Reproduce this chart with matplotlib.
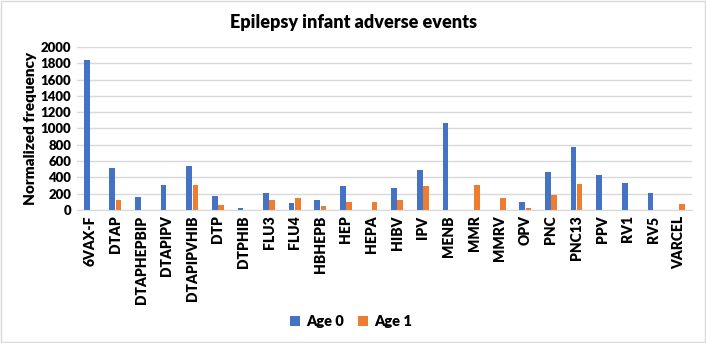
import numpy as np
import matplotlib
matplotlib.use('Agg')
import matplotlib.pyplot as plt
from matplotlib.patches import Rectangle

plt.rcParams['font.family'] = ['Lato', 'DejaVu Sans']

vaccines = ['6VAX-F', 'DTAP', 'DTAPHEPBIP', 'DTAPIPV', 'DTAPIPVHIB', 'DTP', 'DTPHIB',
            'FLU3', 'FLU4', 'HBHEPB', 'HEP', 'HEPA', 'HIBV', 'IPV', 'MENB', 'MMR',
            'MMRV', 'OPV', 'PNC', 'PNC13', 'PPV', 'RV1', 'RV5', 'VARCEL']
age0 = [1840, 516, 164, 303, 533, 172, 20, 213, 90, 127, 295, 0, 266, 492, 1066, 0,
        0, 94, 463, 770, 426, 328, 213, 0]
age1 = [0, 123, 0, 0, 303, 66, 0, 123, 143, 49, 98, 98, 119, 291, 0, 303,
        152, 20, 184, 320, 0, 0, 0, 70]

fig = plt.figure(figsize=(7.06, 3.43), dpi=100)
ax = fig.add_axes([0.109, 0.388, 0.871, 0.475])

x = np.arange(len(vaccines))
w = 0.22
ax.bar(x - w / 2 - 0.01, age0, w, color='#4472C4', label='Age 0')
ax.bar(x + w / 2 + 0.01, age1, w, color='#ED7D31', label='Age 1')

ax.set_xlim(-0.5, len(vaccines) - 0.5)
ax.set_ylim(0, 2000)
ax.set_yticks(range(0, 2001, 200))
ax.set_xticks(x)
ax.set_xticklabels(vaccines, rotation=90, fontsize=10, fontweight='heavy')
for lab in ax.get_yticklabels():
    lab.set_fontsize(9.5)
    lab.set_fontweight('heavy')
ax.tick_params(length=0, pad=4, colors='black')
ax.yaxis.grid(True, color='#D9D9D9', linewidth=1)
ax.set_axisbelow(True)
for s in ['top', 'right', 'left']:
    ax.spines[s].set_visible(False)
ax.spines['bottom'].set_color('#D9D9D9')
ax.set_ylabel('Normalized frequency', fontsize=11, fontweight='heavy', labelpad=3)

fig.text(0.5, 0.935, 'Epilepsy infant adverse events', ha='center', va='center',
         fontsize=13, fontweight='heavy', color='black')

fig.legend(loc='center', bbox_to_anchor=(0.497, 0.062), ncol=2, frameon=False,
           prop={'size': 10.5, 'weight': 'heavy'}, handlelength=0.7, handleheight=0.7,
           columnspacing=1.0, handletextpad=0.4)

fig.patches.append(Rectangle((0.002, 0.003), 0.996, 0.994, transform=fig.transFigure,
                             fill=False, edgecolor='#D9D9D9', linewidth=1))

fig.savefig('out.png', dpi=100)
